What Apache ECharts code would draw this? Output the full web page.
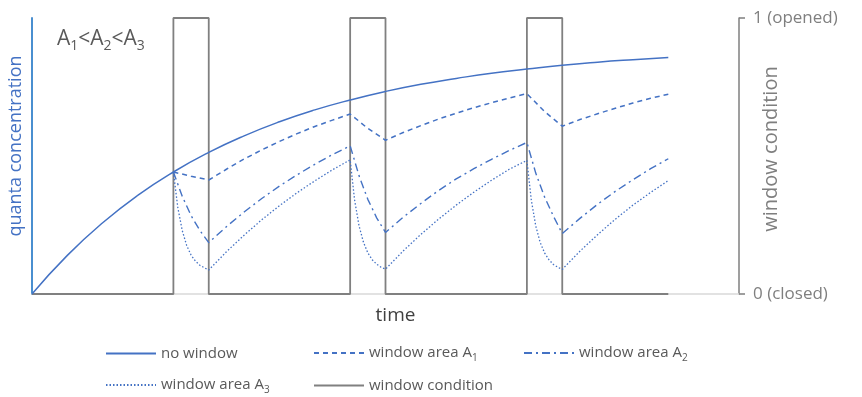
<!DOCTYPE html>
<html><head><meta charset="utf-8">
<script src="https://cdn.jsdelivr.net/npm/echarts@6/dist/echarts.min.js"></script>
<style>html,body{margin:0;padding:0;background:#fff}#c{width:862px;height:397px}</style>
</head><body><div id="c"></div>
<script>
// time (arbitrary units) and quanta concentration (relative)
const noWinT = [0,1,2,3,4,5,6,7,8,9,10,11,12,13,14,15,16,17,18];
const noWinC = [0,0.140,0.258,0.358,0.442,0.513,0.573,0.624,0.667,0.703,0.734,0.760,0.781,0.800,0.815,0.829,0.840,0.849,0.857];

const a1T = [4,4.5,5,5.5,6,6.5,7,7.5,8,8.5,9,9.5,10,10.5,11,11.5,12,12.5,13,13.5,14,14.5,15,15.5,16,16.5,17,17.5,18];
const a1C = [0.442,0.427,0.413,0.452,0.489,0.522,0.553,0.581,0.607,0.630,0.652,0.600,0.557,0.585,0.610,0.634,0.655,0.675,0.693,0.710,0.726,0.661,0.608,0.632,0.653,0.673,0.692,0.709,0.724];

const a2T = [4,4.25,4.5,4.75,5,5.5,6,6.5,7,7.5,8,8.5,9,9.25,9.5,9.75,10,10.5,11,11.5,12,12.5,13,13.5,14,14.25,14.5,14.75,15,15.5,16,16.5,17,17.5,18];
const a2C = [0.442,0.354,0.284,0.230,0.186,0.244,0.297,0.346,0.391,0.432,0.470,0.505,0.537,0.429,0.343,0.276,0.223,0.278,0.328,0.375,0.417,0.454,0.488,0.520,0.549,0.438,0.351,0.282,0.219,0.274,0.325,0.372,0.414,0.454,0.490];

const a3T = [4,4.125,4.25,4.375,4.5,4.625,4.75,4.875,5,5.5,6,6.5,7,7.5,8,8.5,9,9.125,9.25,9.375,9.5,9.625,9.75,9.875,10,10.5,11,11.5,12,12.5,13,13.5,14,14.125,14.25,14.375,14.5,14.625,14.75,14.875,15,15.5,16,16.5,17,17.5,18];
const a3C = [0.442,0.313,0.230,0.176,0.141,0.119,0.104,0.095,0.087,0.153,0.213,0.269,0.320,0.367,0.410,0.450,0.486,0.341,0.248,0.188,0.149,0.124,0.108,0.097,0.090,0.156,0.216,0.271,0.322,0.369,0.412,0.452,0.484,0.340,0.247,0.187,0.149,0.124,0.107,0.097,0.089,0.155,0.215,0.271,0.322,0.368,0.411];

const winT = [0,4,4,5,5,9,9,10,10,14,14,15,15,18];
const winS = [0,0,1,1,0,0,1,1,0,0,1,1,0,0];

const rightTickLabels = {0:'0 (closed)', 1:'1 (opened)'};

const zip = (t, v) => t.map((x, i) => [x, v[i]]);
const FONT = 'Open Sans';
const BLUE = '#4472C4';

const chart = echarts.init(document.getElementById('c'), null, {renderer:'canvas'});
const legendRich = {
  t: {fontFamily: FONT, fontSize: 15, color: '#595959', lineHeight: 22},
  s: {fontFamily: FONT, fontSize: 10, color: '#595959', lineHeight: 11, padding: [10, 0, 0, 0]}
};
const legendFmt = name => {
  const m = name.match(/^(.*A)(\d)$/);
  return m ? '{t|' + m[1] + '}{s|' + m[2] + '}' : '{t|' + name + '}';
};
const mkLegend = (name, left, top) => ({
  data: [name], left: left, top: top, padding: 0, itemWidth: 50, itemHeight: 14, itemGap: 5,
  selectedMode: false, formatter: legendFmt,
  itemStyle: {color: 'rgba(0,0,0,0)', borderWidth: 0, opacity: 0},
  textStyle: {fontFamily: FONT, fontSize: 15, color: '#595959', rich: legendRich}
});

chart.setOption({
  animation: false,
  backgroundColor: '#fff',
  grid: {left: 32, right: 123, top: 18, bottom: 103, containLabel: false, outerBoundsMode: 'none'},
  xAxis: {
    type: 'value', min: 0, max: 20,
    name: 'time', nameLocation: 'middle', nameGap: 12,
    nameTextStyle: {fontFamily: FONT, fontSize: 19, color: '#404040', verticalAlign: 'top', padding: [0, 0, 0, 20]},
    axisLine: {show: true, lineStyle: {color: '#d9d9d9', width: 1.5}},
    axisTick: {show: false}, axisLabel: {show: false}, splitLine: {show: false}
  },
  yAxis: [{
    type: 'value', min: 0, max: 1, position: 'left',
    name: 'quanta concentration', nameLocation: 'middle', nameGap: 7, nameRotate: 90,
    nameTextStyle: {fontFamily: FONT, fontSize: 18, color: BLUE, padding: [0, 0, 0, 20]},
    axisLine: {show: true, lineStyle: {color: '#4a8fd0', width: 2}},
    axisTick: {show: false}, axisLabel: {show: false}, splitLine: {show: false}
  }, {
    type: 'value', min: 0, max: 1, interval: 1, position: 'right',
    name: 'window condition', nameLocation: 'middle', nameGap: 22, nameRotate: 90, nameMoveOverlap: false,
    nameTextStyle: {fontFamily: FONT, fontSize: 20, color: '#7f7f7f', padding: [0, 0, 0, 14]},
    axisLine: {show: true, lineStyle: {color: '#7f7f7f', width: 1.5}},
    axisTick: {show: true, length: 6, lineStyle: {color: '#7f7f7f', width: 1.5}},
    axisLabel: {show: true, margin: 14, fontFamily: FONT, fontSize: 17, color: '#7f7f7f',
      formatter: v => rightTickLabels[v]},
    splitLine: {show: false}
  }],
  legend: [
    mkLegend('no window', 105, 346),
    mkLegend('window area A1', 313, 343),
    mkLegend('window area A2', 523, 343),
    mkLegend('window area A3', 105, 375),
    mkLegend('window condition', 313, 378)
  ],
  graphic: [{
    type: 'text', left: 57, top: 26,
    style: {
      text: '{t|A}{s|1}{t|<A}{s|2}{t|<A}{s|3}',
      rich: {
        t: {fontFamily: FONT, fontSize: 21, fill: '#595959', lineHeight: 26},
        s: {fontFamily: FONT, fontSize: 14, fill: '#595959', lineHeight: 15, padding: [13, 0, 0, 0]}
      }
    }
  }],
  series: [
    {name: 'window condition', type: 'line', yAxisIndex: 1, data: zip(winT, winS), symbol: 'none',
      lineStyle: {color: '#808080', width: 1.8}, itemStyle: {color: '#808080'}, z: 1},
    {name: 'no window', type: 'line', data: zip(noWinT, noWinC), symbol: 'none', smooth: true,
      lineStyle: {color: BLUE, width: 1.5}, itemStyle: {color: BLUE}, z: 3},
    {name: 'window area A1', type: 'line', data: zip(a1T, a1C), symbol: 'none',
      lineStyle: {color: BLUE, width: 1.5, type: [5, 4]}, itemStyle: {color: BLUE}, z: 3},
    {name: 'window area A2', type: 'line', data: zip(a2T, a2C), symbol: 'none',
      lineStyle: {color: BLUE, width: 1.4, type: [8, 4, 2, 4]}, itemStyle: {color: BLUE}, z: 3},
    {name: 'window area A3', type: 'line', data: zip(a3T, a3C), symbol: 'none',
      lineStyle: {color: BLUE, width: 1.3, type: [1.5, 2]}, itemStyle: {color: BLUE}, z: 3}
  ]
});
</script></body></html>
